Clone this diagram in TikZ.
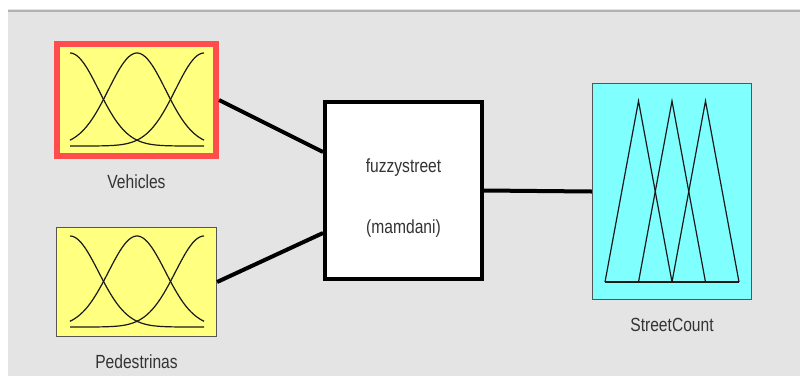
\documentclass[tikz,border=0pt]{standalone}
\usepackage{graphicx}
\usepackage{fontspec}
\setmainfont{Liberation Sans}
\usetikzlibrary{positioning}

\definecolor{panelgray}{RGB}{228,228,228}
\definecolor{rulegray}{RGB}{178,178,178}
\definecolor{mfyellow}{RGB}{255,255,128}
\definecolor{mfcyan}{RGB}{128,255,255}
\definecolor{selred}{RGB}{255,77,77}
\definecolor{edgegray}{RGB}{85,85,85}

% tall, narrow lettering of the editor window
\newcommand{\tallname}[1]{\scalebox{1}[1.22]{#1}}

\begin{document}
\begin{tikzpicture}[x=1pt, y=-1pt, node distance=17pt]

\tikzstyle{invar}=[rectangle, draw=edgegray, fill=mfyellow, line width=1.2pt,
  minimum width=160pt, minimum height=109pt, inner sep=0pt]
\tikzstyle{selected}=[draw=selred, line width=6pt,
  minimum width=159pt, minimum height=112pt]
\tikzstyle{outvar}=[rectangle, draw=edgegray, fill=mfcyan, line width=1.2pt,
  minimum width=159pt, minimum height=216pt, inner sep=0pt]
\tikzstyle{system}=[rectangle, draw=black, fill=white, line width=4pt,
  minimum width=157pt, minimum height=177pt, align=center, text=black!80,
  font=\fontsize{15.6}{18}\selectfont]
\tikzstyle{varname}=[inner sep=0pt, text=black!80,
  font=\fontsize{15.6}{18}\selectfont]

\tikzstyle{wire}=[line width=4pt, draw=black]
\tikzstyle{mf}=[line width=1.2pt, draw=black!90]

% window background
\useasboundingbox (0,0) rectangle (800,376);
\fill[white] (0,0) rectangle (800,376);
\fill[panelgray] (8,9) rectangle (800,376);
\draw[rulegray, line width=2pt] (8,11) -- (800,11);

\node[invar, selected] (vehicles) at (136.5,100) {};
\node[invar] (pedestrinas) at (136.5,282) {};
\node[system] (fis) at (403.5,190.5)
  {\rule{0pt}{28pt}\tallname{fuzzystreet}\\[43pt]\tallname{(mamdani)}};
\node[outvar] (streetcount) at (672,191.5) {};

\node[varname, below=16pt of vehicles] (vehlbl) {\tallname{Vehicles}};
\node[varname, below=17pt of pedestrinas] (pedlbl) {\tallname{Pedestrinas}};
\node[varname, below=18pt of streetcount] (outlbl) {\tallname{StreetCount}};

% membership functions
\foreach \c in {70,137,204} {
  \draw[mf] plot[domain=70:204, samples=60, smooth]
    (\x, {146-93*exp(-((\x-\c)/40.31)*((\x-\c)/40.31))});
  \draw[mf] plot[domain=70:204, samples=60, smooth]
    (\x, {327-91*exp(-((\x-\c)/40.31)*((\x-\c)/40.31))});
}
\foreach \a in {605,638.5,672}
  \draw[mf] (\a,282) -- (\a+33.5,101) -- (\a+67,282);
\draw[mf] (605,282) -- (739,282);

% connections
\draw[wire] (vehicles.east) -- ([yshift=38.5pt]fis.west);
\draw[wire] (pedestrinas.east) -- ([yshift=-42.5pt]fis.west);
\draw[wire] (fis.east) -- (streetcount.west);

\end{tikzpicture}
\end{document}
